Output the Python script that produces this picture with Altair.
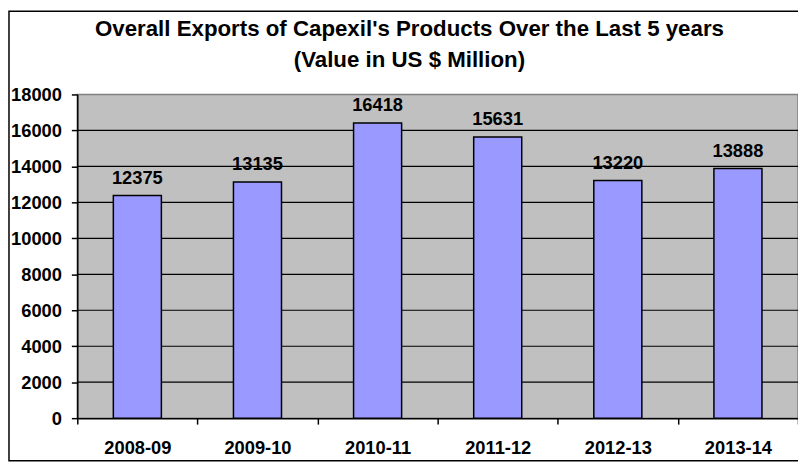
import altair as alt
import pandas as pd

years = ["2008-09", "2009-10", "2010-11", "2011-12", "2012-13", "2013-14"]
exports = [12375, 13135, 16418, 15631, 13220, 13888]
y_ticks = [0, 2000, 4000, 6000, 8000, 10000, 12000, 14000, 16000, 18000]
title_lines = [
    "Overall Exports of Capexil's Products Over the Last 5 years",
    "(Value in US $ Million)",
]

FONT = "Liberation Sans"
df = pd.DataFrame({"year": years, "value": exports})
grid_df = pd.DataFrame({"value": y_ticks[1:-1]})

x_enc = alt.X(
    "year:N",
    sort=years,
    scale=alt.Scale(paddingInner=0, paddingOuter=0),
    axis=alt.Axis(
        title=None,
        labelAngle=0,
        tickBand="extent",
        labelFont=FONT,
        labelFontSize=18.5,
        labelFontWeight="bold",
        labelColor="black",
        labelPadding=15,
        tickSize=6,
        tickColor="black",
        tickWidth=1.5,
        domainColor="black",
        domainWidth=1.5,
        grid=False,
    ),
)
y_enc = alt.Y(
    "value:Q",
    scale=alt.Scale(domain=[0, 18000], nice=False),
    axis=alt.Axis(
        title=None,
        values=y_ticks,
        format="d",
        grid=False,
        labelFont=FONT,
        labelFontSize=18.5,
        labelFontWeight="bold",
        labelColor="black",
        labelPadding=10,
        tickSize=6,
        tickColor="black",
        tickWidth=1.5,
        domainColor="black",
        domainWidth=1.5,
    ),
)

one = pd.DataFrame({"a": [0]})

border = alt.Chart(one).mark_rect(
    fillOpacity=0, stroke="black", strokeWidth=1.5
).encode(
    x=alt.value(-69), x2=alt.value(780), y=alt.value(-84), y2=alt.value(370)
)

title = alt.Chart(one).mark_text(
    text=title_lines,
    font=FONT,
    fontSize=22.5,
    fontWeight="bold",
    color="black",
    align="center",
    baseline="alphabetic",
    lineHeight=31,
).encode(x=alt.value(335.5), y=alt.value(-59))

grid = alt.Chart(grid_df).mark_rule(color="black", strokeWidth=1.2).encode(
    y=y_enc, x=alt.value(0), x2=alt.value(728)
)

bars = alt.Chart(df).mark_bar(
    width=alt.RelativeBandSize(0.4), color="#9999ff", stroke="black", strokeWidth=1.5
).encode(x=x_enc, y=y_enc)

labels = alt.Chart(df).mark_text(
    dy=-12, baseline="alphabetic", font=FONT, fontSize=18.5, fontWeight="bold", color="black"
).encode(x=x_enc, y=y_enc, text="value:Q")

chart = alt.layer(border, title, grid, bars, labels).properties(
    width=728,
    height=327,
    autosize=alt.AutoSizeParams(type="none"),
    padding={"left": 70, "top": 85, "right": 0, "bottom": 46},
).configure_view(fill="#c0c0c0", stroke="#808080", strokeWidth=1.5)

chart.save("out.html", embed_options={"renderer": "svg", "actions": False})
